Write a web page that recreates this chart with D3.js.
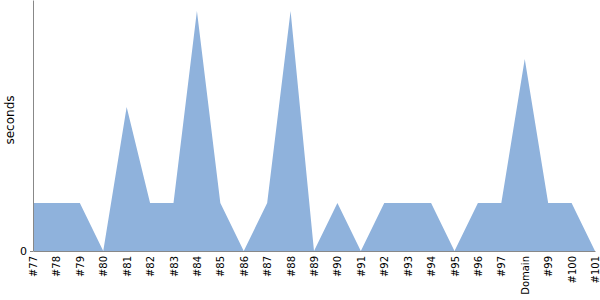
<!DOCTYPE html>
<html>
<head>
<meta charset="utf-8">
<script src="https://cdn.jsdelivr.net/npm/d3@7"></script>
<style>
  body { margin: 0; background: #fff; }
  text { font-family: "DejaVu Sans", sans-serif; }
</style>
</head>
<body>
<div id="chart"></div>
<script>
// DATA
const builds = ['#77','#78','#79','#80','#81','#82','#83','#84','#85','#86','#87','#88','#89',
	'#90','#91','#92','#93','#94','#95','#96','#97','Domain','#99','#100','#101'];
const seconds = [1,1,1,0,3,1,1,5,1,0,1,5,0,1,0,1,1,1,0,1,1,4,1,1,0];
const yTicks = [0];

const width = 600, height = 300;
const margin = { top: 0, right: 5, bottom: 49, left: 33 };
const plotW = width - margin.left - margin.right;
const plotH = height - margin.top - margin.bottom;

const svg = d3.select('#chart').append('svg')
	.attr('width', width)
	.attr('height', height);

const g = svg.append('g')
	.attr('transform', `translate(${margin.left},${margin.top})`);

const x = d3.scalePoint()
	.domain(builds)
	.range([0, plotW]);

const y = d3.scaleLinear()
	.domain([0, 5.23])
	.range([plotH, 0]);

const area = d3.area()
	.x((d, i) => x(builds[i]))
	.y0(plotH)
	.y1(d => y(d));

g.append('path')
	.datum(seconds)
	.attr('fill', '#8fb2dc')
	.attr('d', area);

// y axis
const yAxis = g.append('g')
	.call(d3.axisLeft(y).tickValues(yTicks).tickFormat(d3.format('d')).tickSize(3).tickSizeOuter(0));
yAxis.select('.domain').attr('stroke', '#888');
yAxis.selectAll('.tick line').attr('stroke', '#888');
yAxis.selectAll('.tick text').attr('font-size', 11).attr('fill', '#000')
	.attr('font-family', '"DejaVu Sans", sans-serif');

// x axis
const xAxis = g.append('g')
	.attr('transform', `translate(0,${plotH})`)
	.call(d3.axisBottom(x).tickSize(0).tickSizeOuter(0));
xAxis.select('.domain').attr('stroke', '#888');
xAxis.selectAll('.tick text')
	.attr('font-size', 10)
	.attr('fill', '#000')
	.attr('font-family', '"DejaVu Sans", sans-serif')
	.attr('text-anchor', 'end')
	.attr('transform', 'rotate(-90)')
	.attr('x', -5)
	.attr('y', 0)
	.attr('dy', '0.35em');

// y label
svg.append('text')
	.attr('transform', `translate(14,120) rotate(-90)`)
	.attr('text-anchor', 'middle')
	.attr('font-size', 12)
	.text('seconds');
</script>
</body>
</html>
